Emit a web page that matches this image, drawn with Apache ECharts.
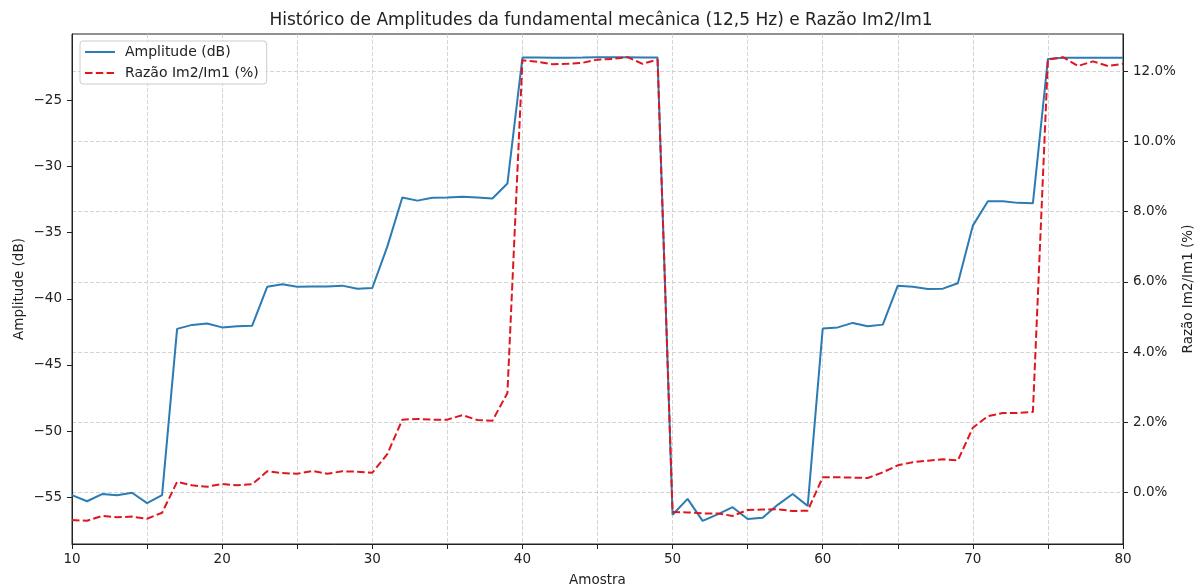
<!DOCTYPE html>
<html>
<head>
<meta charset="utf-8">
<script src="https://cdn.jsdelivr.net/npm/echarts@6/dist/echarts.min.js"></script>
<style>
  html, body { margin: 0; padding: 0; background: #ffffff; }
  #chart { width: 1202px; height: 588px; }
</style>
</head>
<body>
<div id="chart"></div>
<script>
// Sample index (Amostra)
const amostras = [
  10, 11, 12, 13, 14, 15, 16, 17, 18, 19,
  20, 21, 22, 23, 24, 25, 26, 27, 28, 29,
  30, 31, 32, 33, 34, 35, 36, 37, 38, 39,
  40, 41, 42, 43, 44, 45, 46, 47, 48, 49,
  50, 51, 52, 53, 54, 55, 56, 57, 58, 59,
  60, 61, 62, 63, 64, 65, 66, 67, 68, 69,
  70, 71, 72, 73, 74, 75, 76, 77, 78, 79,
  80
];

// Amplitude of the 12.5 Hz mechanical fundamental, in dB
const amplitudeDb = [
  -54.85, -55.31, -54.77, -54.85, -54.67, -55.45, -54.85, -42.27, -41.97, -41.87,
  -42.16, -42.08, -42.03, -39.09, -38.90, -39.09, -39.06, -39.06, -39.00, -39.23,
  -39.18, -36.05, -32.33, -32.57, -32.36, -32.33, -32.28, -32.33, -32.41, -31.28,
  -21.75, -21.75, -21.76, -21.76, -21.75, -21.73, -21.72, -21.73, -21.74, -21.75,
  -56.33, -55.13, -56.79, -56.30, -55.76, -56.65, -56.56, -55.58, -54.76, -55.66,
  -42.25, -42.16, -41.82, -42.08, -41.95, -39.00, -39.09, -39.25, -39.23, -38.82,
  -34.46, -32.62, -32.62, -32.74, -32.76, -21.85, -21.77, -21.77, -21.77, -21.77,
  -21.77
];

// Im2/Im1 ratio, in percent
const razaoPct = [
  -0.78, -0.80, -0.66, -0.70, -0.68, -0.74, -0.57, 0.31, 0.21, 0.17,
  0.25, 0.21, 0.24, 0.61, 0.56, 0.54, 0.62, 0.54, 0.61, 0.60,
  0.57, 1.10, 2.08, 2.10, 2.08, 2.08, 2.21, 2.07, 2.05, 2.84,
  12.31, 12.27, 12.20, 12.21, 12.24, 12.33, 12.35, 12.40, 12.21, 12.33,
  -0.55, -0.56, -0.59, -0.59, -0.66, -0.49, -0.48, -0.47, -0.52, -0.51,
  0.44, 0.44, 0.43, 0.42, 0.58, 0.78, 0.87, 0.91, 0.95, 0.92,
  1.85, 2.18, 2.27, 2.27, 2.30, 12.33, 12.40, 12.15, 12.28, 12.15,
  12.21
];

// Tick positions
const xLabelTicks = [10, 20, 30, 40, 50, 60, 70, 80];
const dbTicks = [-55, -50, -45, -40, -35, -30, -25];
const pctTicks = [0, 2, 4, 6, 8, 10, 12];

// 5% padding around the data range on each value axis
function paddedRange(values) {
  const lo = Math.min(...values), hi = Math.max(...values);
  const pad = (hi - lo) * 0.05;
  return [lo - pad, hi + pad];
}
const dbRange = paddedRange(amplitudeDb);
const pctRange = paddedRange(razaoPct);

const ampSeries = amostras.map((x, i) => [x, amplitudeDb[i]]);
const ratioSeries = amostras.map((x, i) => [x, razaoPct[i]]);

const FONT = 'DejaVu Sans';
const INK = '#222222';
const GRID_LINE = { show: true, lineStyle: { color: '#c9c9c9', width: 0.8, type: [4, 2] } };
const minus = (s) => String(s).replace('-', '\u2212');

const chart = echarts.init(document.getElementById('chart'), null, { renderer: 'canvas' });

chart.setOption({
  animation: false,
  backgroundColor: '#ffffff',
  textStyle: { fontFamily: FONT },
  title: {
    text: 'Histórico de Amplitudes da fundamental mecânica (12,5 Hz) e Razão Im2/Im1',
    left: 'center',
    top: 12,
    padding: 0,
    textStyle: { fontFamily: FONT, fontSize: 17, fontWeight: 'normal', color: INK }
  },
  legend: {
    orient: 'vertical',
    left: 80,
    top: 41,
    padding: [4, 8, 4, 4],
    itemWidth: 30,
    itemHeight: 14,
    itemGap: 7,
    backgroundColor: 'rgba(255,255,255,0.8)',
    borderColor: '#cccccc',
    borderWidth: 1,
    borderRadius: 3,
    itemStyle: { opacity: 0 },
    textStyle: { fontFamily: FONT, fontSize: 14, color: INK, padding: [0, 0, 0, 5] },
    data: ['Amplitude (dB)', 'Razão Im2/Im1 (%)']
  },
  grid: {
    left: 72, right: 79, top: 34, bottom: 44,
    outerBoundsMode: 'none',
    containLabel: false,
    show: true, borderColor: INK, borderWidth: 1, backgroundColor: 'transparent'
  },
  xAxis: {
    type: 'value',
    min: 10,
    max: 80,
    interval: 5,
    name: 'Amostra',
    nameLocation: 'middle',
    nameGap: 29,
    nameMoveOverlap: false,
    nameTextStyle: { fontFamily: FONT, fontSize: 13.5, color: INK },
    axisLine: { show: true, onZero: false, lineStyle: { color: INK, width: 1 } },
    axisTick: { show: true, length: 5, lineStyle: { color: INK, width: 1 } },
    axisLabel: {
      fontFamily: FONT, fontSize: 13.5, color: INK, margin: 8,
      formatter: (v) => (xLabelTicks.includes(v) ? String(v) : '')
    },
    splitLine: GRID_LINE
  },
  yAxis: [
    {
      type: 'value',
      position: 'left',
      min: dbRange[0],
      max: dbRange[1],
      name: 'Amplitude (dB)',
      nameLocation: 'middle',
      nameGap: 46,
      nameRotate: 90,
      nameMoveOverlap: false,
      nameTextStyle: { fontFamily: FONT, fontSize: 13.5, color: INK },
      axisLine: { show: true, onZero: false, lineStyle: { color: INK, width: 1 } },
      axisTick: { show: true, length: 5, customValues: dbTicks, lineStyle: { color: INK, width: 1 } },
      axisLabel: {
        fontFamily: FONT, fontSize: 13.5, color: INK, margin: 10,
        customValues: dbTicks,
        formatter: (v) => minus(v)
      },
      splitLine: { show: false }
    },
    {
      type: 'value',
      position: 'right',
      min: pctRange[0],
      max: pctRange[1],
      name: 'Razão Im2/Im1 (%)',
      nameLocation: 'middle',
      nameGap: 58,
      nameRotate: 90,
      nameMoveOverlap: false,
      nameTextStyle: { fontFamily: FONT, fontSize: 13.5, color: INK },
      axisLine: { show: true, onZero: false, lineStyle: { color: INK, width: 1 } },
      axisTick: { show: true, length: 5, customValues: pctTicks, lineStyle: { color: INK, width: 1 } },
      axisLabel: {
        fontFamily: FONT, fontSize: 13.5, color: INK, margin: 10,
        customValues: pctTicks,
        formatter: (v) => minus(Number(v).toFixed(1)) + '%'
      },
      splitLine: GRID_LINE
    }
  ],
  series: [
    {
      name: 'Amplitude (dB)',
      type: 'line',
      yAxisIndex: 0,
      data: ampSeries,
      symbol: 'none',
      lineStyle: { color: '#2b7bb4', width: 2 },
      itemStyle: { color: '#2b7bb4' },
      z: 2
    },
    {
      name: 'Razão Im2/Im1 (%)',
      type: 'line',
      yAxisIndex: 1,
      data: ratioSeries,
      symbol: 'none',
      lineStyle: { color: '#e0161e', width: 2, type: [7.5, 3.3] },
      itemStyle: { color: '#e0161e' },
      z: 3
    }
  ]
});
</script>
</body>
</html>
